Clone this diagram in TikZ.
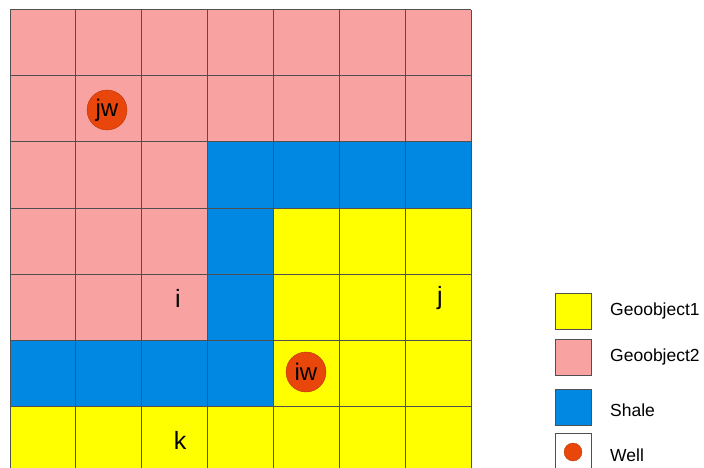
\documentclass[tikz,border=0pt]{standalone}
\usepackage{fontspec}
\setmainfont{Liberation Sans}
\definecolor{geopink}{HTML}{F9A2A2}
\definecolor{geoyellow}{HTML}{FFFF00}
\definecolor{shaleblue}{HTML}{0088E2}
\definecolor{wellred}{HTML}{E8460A}
\definecolor{gridline}{HTML}{505050}
\tikzset{
  cellfill/.style={draw=none},
  wellmark/.style={circle, fill=wellred, draw=wellred!80!black, line width=0.4pt, minimum size=40pt, inner sep=0pt, font=\fontsize{24}{24}\selectfont},
  celllabel/.style={font=\fontsize{25}{25}\selectfont, inner sep=0pt},
  legbox/.style={draw=gridline, line width=0.9pt, minimum width=36pt, minimum height=36pt, inner sep=0pt},
  legtext/.style={anchor=west, font=\fontsize{17.5}{17.5}\selectfont, inner sep=0pt}
}
\begin{document}
\begin{tikzpicture}[x=1pt,y=-1pt]
\useasboundingbox (0,0) rectangle (704,468);
\fill[white] (0,0) rectangle (704,468);
\begin{scope}
\clip (0,0) rectangle (704,468);
% columns: 10 + 65.857*k ; rows: 10 + 66*k
\def\cw{65.857}
\def\rh{66}
% pink
\fill[geopink] (10,10) rectangle (471,142);
\fill[geopink] (10,142) rectangle ({10+3*\cw},340);
% blue
\fill[shaleblue] ({10+3*\cw},142) rectangle (471,208);
\fill[shaleblue] ({10+3*\cw},208) rectangle ({10+4*\cw},340);
\fill[shaleblue] (10,340) rectangle ({10+4*\cw},406);
% yellow
\fill[geoyellow] ({10+4*\cw},208) rectangle (471,406);
\fill[geoyellow] (10,406) rectangle (471,480);
% grid
\foreach \k in {0,...,7} {
  \draw[gridline, line width=1pt] ({10+\k*\cw},10) -- ({10+\k*\cw},480);
}
\foreach \k in {0,...,7} {
  \draw[gridline, line width=1pt] (10,{10+\k*\rh}) -- (471,{10+\k*\rh});
}
\end{scope}
% wells
\node[wellmark] (jw) at (107,110) {jw};
\node[wellmark] (iw) at (306,372) {iw};
% cell labels
\node[celllabel] (li) at (178,298) {i};
\node[celllabel] (lj) at (440,298) {j};
\node[celllabel] (lk) at (180,440) {k};
% legend
\node[legbox, fill=geoyellow] (b1) at (573.5,311) {};
\node[legbox, fill=geopink] (b2) at (573.5,357) {};
\node[legbox, fill=shaleblue] (b3) at (573.5,407) {};
\node[legbox, fill=white] (b4) at (573.5,451) {};
\node[circle, fill=wellred, draw=wellred!80!black, line width=0.3pt, minimum size=18pt, inner sep=0pt] (b4w) at (573,452) {};
\node[legtext] (t1) at (610,311) {Geoobject1};
\node[legtext] (t2) at (610,357) {Geoobject2};
\node[legtext] (t3) at (610,410) {Shale};
\node[legtext] (t4) at (610,455) {Well};
\end{tikzpicture}
\end{document}
